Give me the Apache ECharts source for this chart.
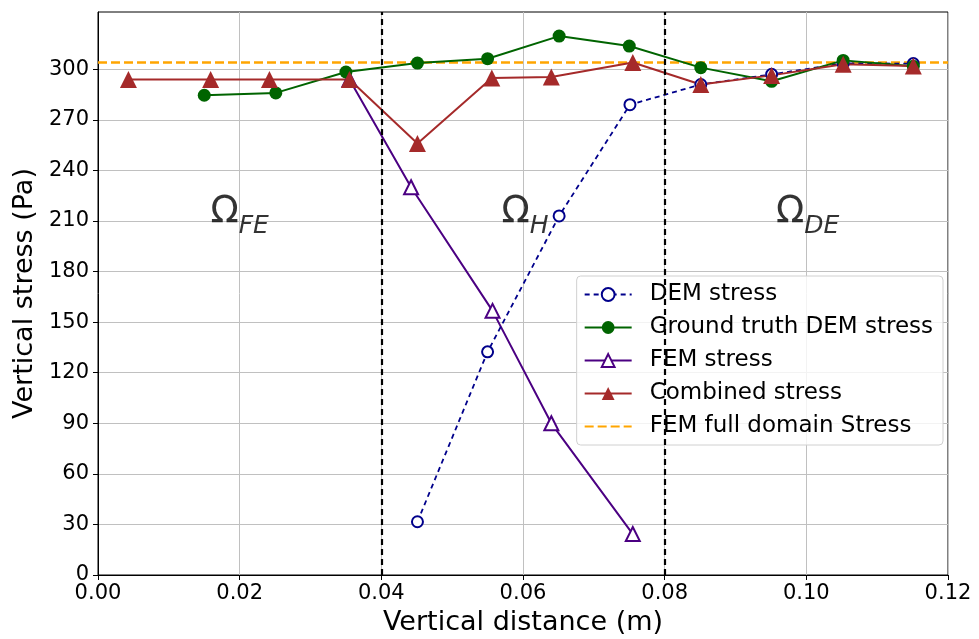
<!DOCTYPE html>
<html>
<head>
<meta charset="utf-8">
<script src="https://cdn.jsdelivr.net/npm/echarts@6/dist/echarts.min.js"></script>
<style>
html,body{margin:0;padding:0;background:#fff;}
#chart{width:979px;height:639px;}
</style>
</head>
<body>
<div id="chart"></div>
<script>
/*数据*/
var demStress = [[0.0451,31.6],[0.0550,132.4],[0.0651,213],[0.0751,279],[0.0851,291],[0.0951,297],[0.1052,303.5],[0.1151,303.4]];
var groundTruth = [[0.0150,284.6],[0.0251,286],[0.0350,298.4],[0.0451,303.7],[0.0550,306.3],[0.0651,319.7],[0.0750,313.8],[0.0851,301],[0.0951,292.9],[0.1052,305.3],[0.1151,301.8]];
var femStress = [[0.0355,294],[0.0442,230],[0.0557,156.7],[0.0640,90],[0.0755,24.3]];
var combined = [[0.0043,294],[0.0159,294],[0.0242,294],[0.0355,294],[0.0451,256],[0.0556,294.8],[0.0640,295.4],[0.0755,304],[0.0851,291],[0.0951,296.4],[0.1052,303],[0.1151,302]];
var femFull = [[0,304],[0.12,304]];
var dividers = [0.04, 0.08];
var yTicks = [0,30,60,90,120,150,180,210,240,270,300];
var regionLabels = [
    {value:[0.0200,216], sym:'Ω', sub:'FE'},
    {value:[0.0603,216], sym:'Ω', sub:'H'},
    {value:[0.1002,216], sym:'Ω', sub:'DE'}
];

var font = 'DejaVu Sans';
/*y轴网格线: 只画到300*/
var yGridColors = [];
for (var i = 0; i < 13; i++) { yGridColors.push(i < yTicks.length ? '#c0c0c0' : 'rgba(0,0,0,0)'); }

var chart = echarts.init(document.getElementById('chart'));
chart.setOption({
    animation:false,
    textStyle:{fontFamily:font},
    grid:{left:98,right:31,top:12,bottom:64,outerBoundsMode:'none',containLabel:false,
          show:true,borderColor:'#000',borderWidth:1,backgroundColor:'transparent'},
    legend:{
        orient:'vertical',
        right:36, top:276,
        itemWidth:47, itemHeight:16, itemGap:10,
        padding:[7,10,7,7],
        backgroundColor:'rgba(255,255,255,0.8)',
        borderColor:'#d0d0d0', borderWidth:1, borderRadius:4,
        textStyle:{fontSize:23,color:'#000',fontFamily:font,padding:[0,0,0,13]},
        data:['DEM stress','Ground truth DEM stress','FEM stress','Combined stress',
              {name:'FEM full domain Stress',itemStyle:{opacity:0}}]
    },
    xAxis:{
        type:'value', min:0, max:0.12, interval:0.02,
        name:'Vertical distance (m)', nameLocation:'middle', nameGap:34,
        nameTextStyle:{fontSize:27,color:'#000'},
        axisLine:{show:true,lineStyle:{color:'#000'}},
        axisTick:{show:true,length:5,lineStyle:{color:'#000'}},
        axisLabel:{fontSize:21,color:'#000',margin:8,formatter:function(v){return v.toFixed(2);}},
        splitLine:{show:true,lineStyle:{color:'#c0c0c0',width:1}}
    },
    yAxis:{
        type:'value', min:0, max:334, interval:30,
        name:'Vertical stress (Pa)', nameLocation:'middle', nameGap:59,
        nameTextStyle:{fontSize:27,color:'#000'},
        axisLine:{show:true,lineStyle:{color:'#000'}},
        axisTick:{show:true,length:5,lineStyle:{color:'#000'},customValues:yTicks},
        axisLabel:{fontSize:21,color:'#000',margin:9,customValues:yTicks},
        splitLine:{show:true,lineStyle:{color:yGridColors,width:1}}
    },
    series:[
        {
            name:'FEM full domain Stress', type:'line', data:femFull, symbol:'none', z:1,
            lineStyle:{color:'#ffa500',width:2.5,type:[9,4]}, itemStyle:{color:'#ffa500'}
        },
        {
            name:'FEM stress', type:'line', data:femStress,
            symbol:'triangle', symbolSize:14,
            lineStyle:{color:'#4b0082',width:2},
            itemStyle:{color:'#fff',borderColor:'#4b0082',borderWidth:2}
        },
        {
            name:'DEM stress', type:'line', data:demStress,
            symbol:'emptyCircle', symbolSize:11,
            lineStyle:{color:'#00008b',width:1.8,type:[5,4]},
            itemStyle:{color:'#00008b',borderWidth:2}
        },
        {
            name:'Ground truth DEM stress', type:'line', data:groundTruth,
            symbol:'circle', symbolSize:13,
            lineStyle:{color:'#006400',width:2},
            itemStyle:{color:'#006400'}
        },
        {
            name:'Combined stress', type:'line', data:combined,
            symbol:'triangle', symbolSize:17,
            lineStyle:{color:'#a52a2a',width:2},
            itemStyle:{color:'#a52a2a'},
            markLine:{
                silent:true, symbol:'none', label:{show:false},
                lineStyle:{color:'#000',width:2.2,type:[6,4]},
                data:dividers.map(function(x){return {xAxis:x};})
            }
        },
        {
            name:'regions', type:'scatter', symbolSize:0, silent:true,
            data:regionLabels.map(function(d){
                return {value:d.value,label:{formatter:'{o|'+d.sym+'}{s|'+d.sub+'}'}};
            }),
            label:{
                show:true, position:'inside',
                rich:{
                    o:{fontSize:37,color:'#000',fontFamily:font,verticalAlign:'bottom',lineHeight:40},
                    s:{fontSize:25,color:'#000',fontStyle:'italic',fontFamily:font,verticalAlign:'bottom',lineHeight:40,padding:[0,0,-8,0]}
                }
            }
        }
    ]
});
</script>
</body>
</html>
